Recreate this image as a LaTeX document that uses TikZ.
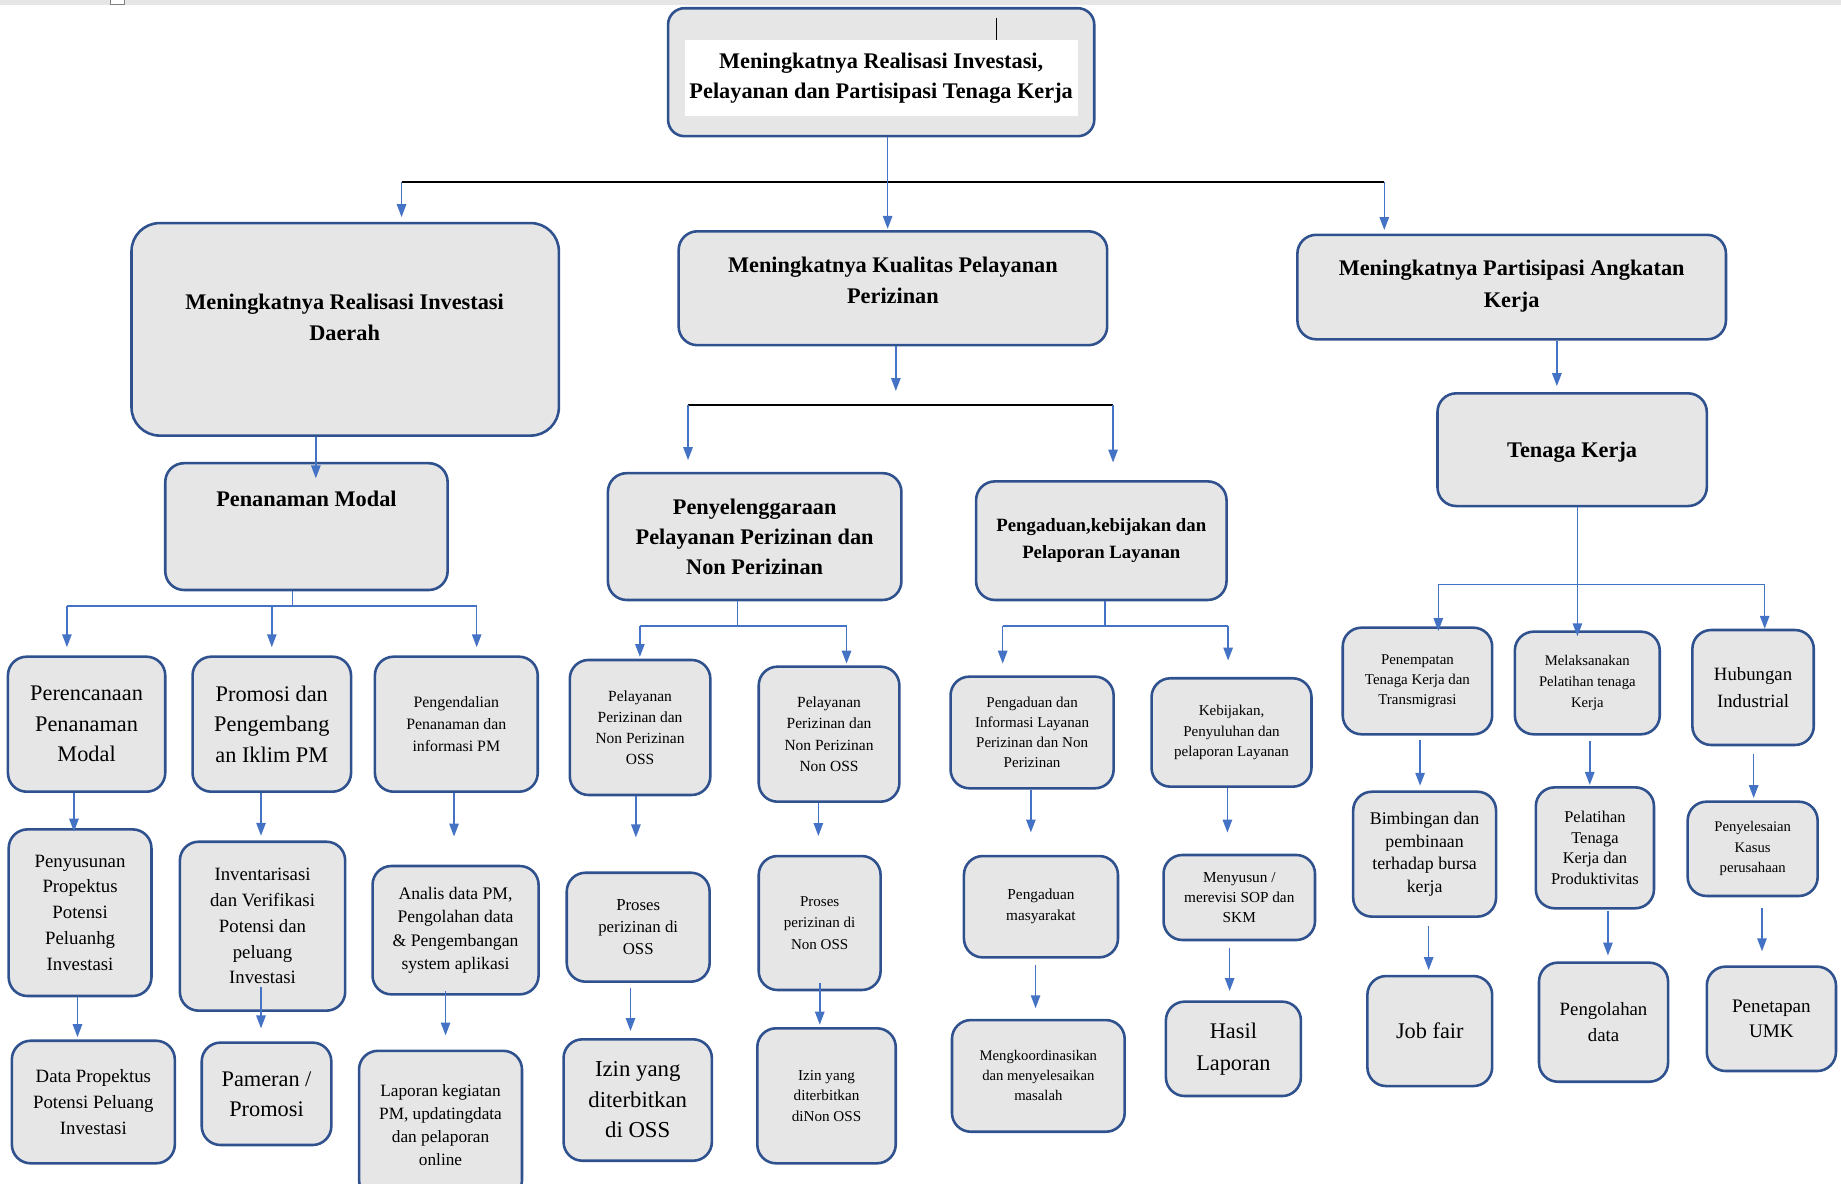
\documentclass[tikz,border=0pt]{standalone}
\usepackage{fontspec}
\setmainfont{Liberation Serif}
\usetikzlibrary{arrows.meta,calc}

\definecolor{boxgray}{HTML}{E7E6E6}
\definecolor{boxblue}{HTML}{2F528F}
\definecolor{linkblue}{HTML}{4472C4}
\definecolor{stripgray}{HTML}{E6E6E6}
\newcommand{\fsz}[2]{\fontsize{#1}{#2}\selectfont}

\tikzset{
    box/.style={draw=boxblue, fill=boxgray, line width=2.2pt, rounded corners=16pt, inner sep=0pt, align=center},
    sz/.style 2 args={minimum width=#1pt, minimum height=#2pt},
    txt/.style={inner sep=0pt, align=center},
    link/.style={draw=linkblue, line width=1.3pt, -{Triangle[width=8pt,length=11pt]}},
    plain/.style={draw=linkblue, line width=1.3pt},
    bar/.style={draw=black, line width=1.6pt}
}

\begin{document}
\begin{tikzpicture}[x=1pt, y=-1pt]
                \useasboundingbox (0,0) rectangle (1568,1008);
                \fill[stripgray] (0,0) rectangle (1568,4.2);
                \draw[gray, line width=0.6pt, fill=white] (94,-1) rectangle (106,3.8);

                % main goal
                \node[box, sz={363}{109}, rounded corners=14pt] (top) at (750.5,61.5) {};
                \node[txt, fill=white, sz={335}{65}, font={\fsz{19}{26}\bfseries}] (toptxt) at (750.5,66.5)
                    {Meningkatnya Realisasi Investasi,\\Pelayanan dan Partisipasi Tenaga Kerja};
                \draw[black, line width=0.9pt] (toptxt.north -| 849,0) -- (849,15);

                % level 1
                \node[box, sz={364}{181}, rounded corners=24pt] (daerah) at (294,280.5) {};
                \node[txt, font={\fsz{19}{26}\bfseries}] (daerahtxt) at (293.5,270.5)
                    {Meningkatnya Realisasi Investasi\\Daerah};
                \node[box, sz={365}{97}] (kualitas) at (760.5,245.5) {};
                \node[txt, font={\fsz{19}{26}\bfseries}] (kualitastxt) at (760.5,239)
                    {Meningkatnya Kualitas Pelayanan\\Perizinan};
                \node[box, sz={365}{89}] (angkatan) at (1287.5,244.5) {};
                \node[txt, font={\fsz{19}{27}\bfseries}] (angkatantxt) at (1287.5,243.5)
                    {Meningkatnya Partisipasi Angkatan\\Kerja};

                % level 2
                \node[box, sz={240.5}{108}] (pm) at (261,448.5) {};
                \node[txt, font={\fsz{19}{26}\bfseries}] (pmtxt) at (261,425) {Penanaman Modal};
                \node[box, sz={250}{108}, font={\fsz{19}{25.5}\bfseries}] (dyn) at (642.75,457)
                    {Penyelenggaraan\\Pelayanan Perizinan dan\\Non Perizinan};
                \node[box, sz={213.3}{101}, font={\fsz{16}{22.7}\bfseries}] (adu) at (938,460.5)
                    {Pengaduan,kebijakan dan\\Pelaporan Layanan};
                \node[box, sz={229.4}{96}, font={\fsz{19}{26}\bfseries}, text depth=0pt] (tk) at (1339,383) {Tenaga Kerja};

                % penanaman modal
                \node[box, sz={134}{115}, font={\fsz{19}{26}}] (rencana) at (73.75,616.8)
                    {Perencanaan\\Penanaman\\Modal};
                \node[box, sz={135}{115}, font={\fsz{19}{26}}] (promosi) at (231.5,616.8)
                    {Promosi dan\\Pengembang\\an Iklim PM};
                \node[box, sz={138.7}{115}, font={\fsz{13.5}{18.5}}] (kendali) at (388.65,616.8)
                    {Pengendalian\\Penanaman dan\\informasi PM};
                \node[box, sz={121.6}{141.9}, font={\fsz{16}{22}}] (susun) at (68.2,777.35)
                    {Penyusunan\\Propektus\\Potensi\\Peluanhg\\Investasi};
                \node[box, sz={138.8}{104.4}, font={\fsz{16}{22}}] (dataprop) at (79.5,938.6)
                    {Data Propektus\\Potensi Peluang\\Investasi};
                \node[box, sz={140.8}{143.9}, font={\fsz{16}{22}}] (invent) at (223.6,788.85)
                    {Inventarisasi\\dan Verifikasi\\Potensi dan\\peluang\\Investasi};
                \node[box, sz={110.4}{87.2}, font={\fsz{19}{25.5}}] (pameran) at (227,931.6)
                    {Pameran /\\Promosi};
                \node[box, sz={141.4}{109.3}, font={\fsz{15}{20}}] (analis) at (388,792.25)
                    {Analis data PM,\\Pengolahan data\\\& Pengembangan\\system aplikasi};
                \node[box, sz={138.8}{126}, font={\fsz{14.7}{19.6}}] (laporan) at (375.2,958)
                    {Laporan kegiatan\\PM, updatingdata\\dan pelaporan\\online};

                % perizinan
                \node[box, sz={119.7}{115}, font={\fsz{13.2}{18}}] (pelOSS) at (545.15,619.6)
                    {Pelayanan\\Perizinan dan\\Non Perizinan\\OSS};
                \node[box, sz={119.8}{115}, font={\fsz{13.2}{18}}] (pelNon) at (706.1,625.3)
                    {Pelayanan\\Perizinan dan\\Non Perizinan\\Non OSS};
                \node[box, sz={121.7}{92.8}, font={\fsz{14.3}{19}}] (prosOSS) at (543.55,789.7)
                    {Proses\\perizinan di\\OSS};
                \node[box, sz={126.3}{103.4}, font={\fsz{19.4}{26}}] (izinOSS) at (543.15,936.9)
                    {Izin yang\\diterbitkan\\di OSS};
                \node[box, sz={103.8}{114.1}, font={\fsz{12.8}{18}}] (prosNon) at (698.1,786.15)
                    {Proses\\perizinan di\\Non OSS};
                \node[box, sz={117.9}{115}, font={\fsz{12.9}{17.5}}] (izinNon) at (703.95,933.3)
                    {Izin yang\\diterbitkan\\diNon OSS};

                % pengaduan
                \node[box, sz={138.9}{95.1}, font={\fsz{12.8}{17}}] (aduinfo) at (879.05,623.85)
                    {Pengaduan dan\\Informasi Layanan\\Perizinan dan Non\\Perizinan};
                \node[box, sz={136.2}{92.3}, font={\fsz{12.8}{17.5}}] (bijak) at (1048.9,623.85)
                    {Kebijakan,\\Penyuluhan dan\\pelaporan Layanan};
                \node[box, sz={131.2}{86.3}, font={\fsz{13}{18}}] (masy) at (886.6,772.25)
                    {Pengaduan\\masyarakat};
                \node[box, sz={147.1}{95.1}, font={\fsz{12.5}{17}}] (koord) at (884.35,916.35)
                    {Mengkoordinasikan\\dan menyelesaikan\\masalah};
                \node[box, sz={129}{72.4}, font={\fsz{13}{17}}] (sop) at (1055.5,764.4)
                    {Menyusun /\\merevisi SOP dan\\SKM};
                \node[box, sz={115}{80.4}, font={\fsz{19}{27}}] (hasil) at (1050.5,893.3)
                    {Hasil\\Laporan};

                % tenaga kerja
                \node[box, sz={127.3}{90.8}, font={\fsz{12.7}{17}}] (tempat) at (1207.25,580)
                    {Penempatan\\Tenaga Kerja dan\\Transmigrasi};
                \node[box, sz={123.4}{87.4}, font={\fsz{12.5}{18}}] (latih) at (1351.9,581.7)
                    {Melaksanakan\\Pelatihan tenaga\\Kerja};
                \node[box, sz={103.4}{97.9}, font={\fsz{16}{23}}] (hub) at (1493.1,585.55)
                    {Hubungan\\Industrial};
                \node[box, sz={121.7}{106.4}, font={\fsz{15.2}{19.4}}] (bimb) at (1213.35,727.5)
                    {Bimbingan dan\\pembinaan\\terhadap bursa\\kerja};
                \node[box, sz={106.3}{93.7}, font={\fsz{19}{26}}] (jobfair) at (1217.75,878.15) {Job fair};
                \node[box, sz={100.6}{103}, font={\fsz{14}{17.5}}] (pelatihan) at (1358.4,722.1)
                    {Pelatihan\\Tenaga\\Kerja dan\\Produktivitas};
                \node[box, sz={109.9}{101.4}, font={\fsz{16}{22.7}}] (olah) at (1365.75,870.6)
                    {Pengolahan\\data};
                \node[box, sz={110.7}{80.3}, font={\fsz{12.5}{17.5}}] (selesai) at (1492.75,722.95)
                    {Penyelesaian\\Kasus\\perusahaan};
                \node[box, sz={110}{88.9}, font={\fsz{16.3}{20.5}}] (tetap) at (1508.7,867.75)
                    {Penetapan\\UMK};

                % connectors: top
                \coordinate (brL) at (342,155);
                \coordinate (brR) at (1179,155);
                \draw[bar] (brL) -- (brR);
                \draw[link] (top.south -| 756,0) -- ($(kualitas.north -| 756,0)+(0,-1)$);
                \draw[link] (brL) -- ($(daerah.north -| brL)+(0,-4)$);
                \draw[link] (brR) -- ($(angkatan.north -| brR)+(0,-3)$);

                % connectors: penanaman modal
                \draw[link] (daerah.south -| 269,0) -- ($(pm.north -| 269,0)+(0,14)$);
                \coordinate (pmbr) at (249,516);
                \coordinate (pmL) at (57,516);
                \coordinate (pmR) at (406,516);
                \draw[plain] (pm.south -| pmbr) -- (pmbr);
                \draw[plain] (pmL) -- (pmR);
                \draw[link] (pmL) -- ($(rencana.north -| pmL)+(0,-7)$);
                \draw[link] (promosi.north |- pmL) -- ($(promosi.north)+(0,-7)$);
                \draw[link] (pmR) -- ($(kendali.north -| pmR)+(0,-7)$);
                \draw[link] (rencana.south -| 63,0) -- ($(susun.north -| 63,0)+(0,3)$);
                \draw[link] (susun.south -| 66,0) -- ($(dataprop.north -| 66,0)+(0,-2)$);
                \draw[link] (promosi.south -| 222.3,0) -- ($(invent.north -| 222.3,0)+(0,-4)$);
                \draw[link] ($(invent.south -| 222.3,0)+(0,-21)$) -- ($(pameran.north -| 222.3,0)+(0,-11)$);
                \draw[link] (kendali.south -| 386.7,0) -- ($(analis.north -| 386.7,0)+(0,-24)$);
                \draw[link] ($(analis.south -| 379.5,0)+(0,-4)$) -- ($(laporan.north -| 379.5,0)+(0,-12)$);

                % connectors: perizinan
                \coordinate (izM) at (763,333);
                \coordinate (izL) at (586,345);
                \coordinate (izR) at (948,345);
                \draw[link] (kualitas.south -| izM) -- (izM);
                \draw[bar] (izL) -- (izR);
                \draw[link] (izL) -- ($(dyn.north -| izL)+(0,-10)$);
                \draw[link] (izR) -- ($(adu.north -| izR)+(0,-15)$);
                \coordinate (dynbr) at (628,533);
                \coordinate (dynL) at (545,533);
                \coordinate (dynR) at (721,533);
                \draw[plain] (dyn.south -| dynbr) -- (dynbr);
                \draw[plain] (dynL) -- (dynR);
                \draw[link] (dynL) -- ($(pelOSS.north -| dynL)+(0,-1.5)$);
                \draw[link] (dynR) -- ($(pelNon.north -| dynR)+(0,-1.5)$);
                \draw[link] (pelOSS.south -| 541.6,0) -- ($(prosOSS.north -| 541.6,0)+(0,-29)$);
                \draw[link] ($(prosOSS.south -| 537,0)+(0,4)$) -- ($(izinOSS.north -| 537,0)+(0,-6)$);
                \draw[link] (pelNon.south -| 697,0) -- ($(prosNon.north -| 697,0)+(0,-16)$);
                \draw[link] ($(prosNon.south -| 698.2,0)+(0,-7)$) -- ($(izinNon.north -| 698.2,0)+(0,-2)$);

                % connectors: pengaduan
                \coordinate (adubr) at (941,533);
                \coordinate (aduL) at (854,533);
                \coordinate (aduR) at (1046,533);
                \draw[plain] (adu.south -| adubr) -- (adubr);
                \draw[plain] (aduL) -- (aduR);
                \draw[link] (aduL) -- ($(aduinfo.north -| aduL)+(0,-10)$);
                \draw[link] (aduR) -- ($(bijak.north -| aduR)+(0,-14)$);
                \draw[link] (aduinfo.south -| 878,0) -- ($(masy.north -| 878,0)+(0,-19)$);
                \draw[link] ($(masy.south -| 882,0)+(0,5)$) -- ($(koord.north -| 882,0)+(0,-9)$);
                \draw[link] (bijak.south -| 1045.4,0) -- ($(sop.north -| 1045.4,0)+(0,-18)$);
                \draw[link] ($(sop.south -| 1047.3,0)+(0,6)$) -- ($(hasil.north -| 1047.3,0)+(0,-8)$);

                % connectors: tenaga kerja
                \draw[link] (angkatan.south -| 1326,0) -- ($(tk.north -| 1326,0)+(0,-5)$);
                \coordinate (tkL) at (1225,498);
                \coordinate (tkR) at (1503,498);
                \draw[plain] (tkL) -- (tkR);
                \draw[link] (tk.south -| 1343.5,0) -- ($(latih.north -| 1343.5,0)+(0,5)$);
                \draw[link] (tkL) -- ($(tempat.north -| tkL)+(0,4)$);
                \draw[link] (tkR) -- (hub.north -| tkR);
                \draw[link] ($(tempat.south -| 1209.5,0)+(0,4)$) -- ($(bimb.north -| 1209.5,0)+(0,-4)$);
                \draw[link] ($(bimb.south -| 1216.8,0)+(0,7)$) -- ($(jobfair.north -| 1216.8,0)+(0,-4)$);
                \draw[link] ($(latih.south -| 1354,0)+(0,5)$) -- ($(pelatihan.north -| 1354,0)+(0,-1)$);
                \draw[link] ($(pelatihan.south -| 1369.5,0)+(0,1)$) -- ($(olah.north -| 1369.5,0)+(0,-5)$);
                \draw[link] ($(hub.south -| 1493.6,0)+(0,7)$) -- ($(selesai.north -| 1493.6,0)+(0,-2)$);
                \draw[link] ($(selesai.south -| 1500.7,0)+(0,9)$) -- ($(tetap.north -| 1500.7,0)+(0,-12)$);
\end{tikzpicture}
\end{document}
